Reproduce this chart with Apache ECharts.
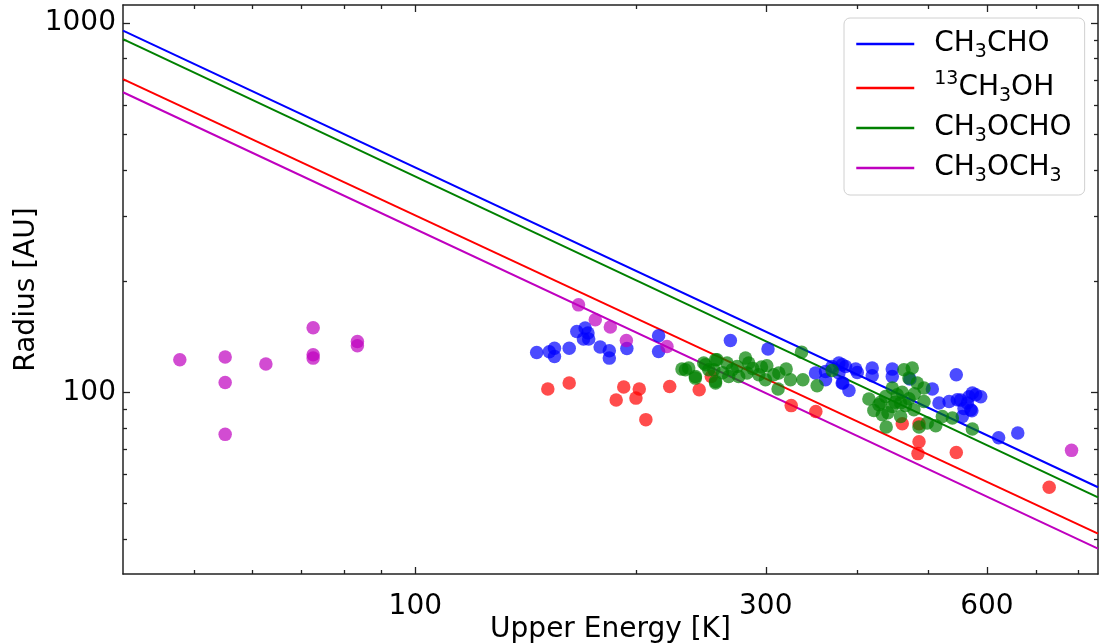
<!DOCTYPE html>
<html><head><meta charset="utf-8">
<script src="https://cdn.jsdelivr.net/npm/echarts@6/dist/echarts.min.js"></script>
<style>html,body{margin:0;padding:0;background:#fff}#c{width:1099px;height:644px}</style>
</head><body><div id="c"></div><script>
// ---- data ----
const seriesNames = ['CH3CHO', '13CH3OH', 'CH3OCHO', 'CH3OCH3'];
const seriesColors = ['#0000ff', '#ff0000', '#008000', '#bf00bf'];
const xMajorTicks = [100, 300, 600];
const xMinorTicks = [50, 60, 70, 80, 90, 200, 400, 500, 700, 800];
const yMajorTicks = [100, 1000];
const yMinorTicks = [40, 50, 60, 70, 80, 90, 200, 300, 400, 500, 600, 700, 800, 900];
const X_MIN = 40, X_MAX = 850, Y_MIN = 32.2, Y_MAX = 1118;

// fit lines: values at x = 40 and x = 850
const fitX = [40, 850];
const fitCH3CHO = [953, 55.3];
const fit13CH3OH = [704, 41.4];
const fitCH3OCHO = [904, 51.9];
const fitCH3OCH3 = [649, 37.7];

const ptsCH3CHO = [[146.3,128.1],[152.2,128.7],[154.7,131.6],[154.7,125.0],[162.0,131.6],[165.9,146.0],[170.3,149.2],[171.8,144.6],[169.4,139.3],[172.2,139.3],[178.5,132.5],[183.7,129.5],[183.7,123.7],[194.1,131.3],[214.4,142.2],[214.4,128.9],[268.5,138.1],[302.1,130.9],[350.6,112.7],[361.8,113.8],[369.4,117.4],[377.3,120.0],[385.3,117.4],[377.3,112.7],[361.8,108.1],[381.2,105.9],[389.4,101.1],[399.7,113.1],[381.2,118.7],[397.7,115.5],[418.8,116.3],[418.8,110.8],[446.0,115.5],[446.0,110.3],[382.0,105.9],[505.7,102.0],[545.1,111.5],[516.4,93.5],[533.0,94.4],[546.9,95.4],[564.3,93.5],[573.3,99.5],[579.4,98.4],[570.4,89.7],[555.5,86.0],[471.4,108.6],[552.7,95.2],[558.5,90.4],[567.3,97.2],[588.6,97.2],[572.4,89.1],[622.5,75.3],[661.0,77.6]];
const pts13CH3OH = [[151.5,102.0],[162.0,105.9],[187.7,95.3],[192.2,103.3],[199.7,96.4],[201.8,102.0],[206.0,84.3],[222.0,103.7],[243.5,101.6],[252.9,110.3],[324.9,92.0],[351.0,88.7],[460.2,82.2],[485.0,82.2],[485.0,73.4],[483.4,68.2],[545.1,68.7],[729.4,55.3]];
const ptsCH3OCHO = [[233.2,115.1],[230.7,115.5],[240.6,110.3],[248.3,118.7],[256.3,122.4],[254.9,115.1],[256.3,105.9],[235.6,116.3],[240.6,109.2],[247.0,120.0],[250.9,115.1],[257.5,122.4],[256.3,107.0],[265.7,120.0],[267.1,110.3],[274.2,117.4],[275.6,110.3],[281.5,123.7],[284.4,120.0],[282.9,112.7],[293.5,111.5],[299.7,108.1],[307.6,111.5],[312.5,112.7],[311.8,102.0],[319.8,115.5],[324.2,108.1],[337.0,108.1],[352.4,104.1],[335.6,128.4],[369.4,114.5],[262,113],[270,115],[288,116],[296,117],[301,118],[414.5,95.9],[421.0,89.3],[427.7,92.5],[436.8,97.4],[446.0,102.7],[446.0,91.5],[453.0,98.4],[457.8,93.5],[457.8,86.0],[437.6,80.5],[462.6,115.1],[474.8,116.3],[469.9,109.2],[482.3,105.9],[492.6,102.7],[492.6,94.4],[477.3,89.7],[485.0,80.5],[497.7,82.5],[511.1,81.2],[521.8,86.0],[538.5,85.2],[573.3,79.5],[432.3,86.9],[460,100],[470,96],[430,94],[440,88],[450,94],[465,92],[478,99]];
const ptsCH3OCH3 = [[47.8,122.4],[55.1,124.5],[55.1,106.3],[55.1,76.9],[62.6,119.2],[72.6,149.4],[72.6,126.3],[72.6,123.7],[83.4,137.2],[83.4,133.6],[166.8,172.4],[175.8,157.1],[184.3,150.1],[193.8,138.1],[220.1,133.0],[782.3,69.6]];

const legendLabels = {
  'CH3CHO': '{n|CH}{s|3}{n|CHO}',
  '13CH3OH': '{p|13}{n|CH}{s|3}{n|OH}',
  'CH3OCHO': '{n|CH}{s|3}{n|OCHO}',
  'CH3OCH3': '{n|CH}{s|3}{n|OCH}{s|3}'
};

// ---- chart ----
const F = 'DejaVu Sans';
const AX = '#222';
function xAx(pos, ticks, len, showLine, withLabels) {
  const a = {
    type: 'log', logBase: 10, min: X_MIN, max: X_MAX, position: pos, gridIndex: 0,
    axisLine: { show: showLine, onZero: false, lineStyle: { color: AX, width: 1.5 } },
    axisTick: { show: true, inside: true, length: len, customValues: ticks, lineStyle: { color: AX, width: 1.3 } },
    axisLabel: { show: false },
    splitLine: { show: false }, minorTick: { show: false }
  };
  if (withLabels) {
    a.axisLabel = { show: true, customValues: ticks, margin: 19, fontSize: 28, fontFamily: F, color: '#000',
      formatter: v => String(Math.round(v)) };
    a.name = 'Upper Energy [K]'; a.nameLocation = 'middle'; a.nameGap = 42; a.nameMoveOverlap = false;
    a.nameTextStyle = { fontSize: 28, fontFamily: F, color: '#000' };
  }
  return a;
}
function yAx(pos, ticks, len, showLine, withLabels) {
  const a = {
    type: 'log', logBase: 10, min: Y_MIN, max: Y_MAX, position: pos, gridIndex: 0,
    axisLine: { show: showLine, onZero: false, lineStyle: { color: AX, width: 1.5 } },
    axisTick: { show: true, inside: true, length: len, customValues: ticks, lineStyle: { color: AX, width: 1.3 } },
    axisLabel: { show: false },
    splitLine: { show: false }, minorTick: { show: false }
  };
  if (withLabels) {
    a.axisLabel = { show: true, customValues: ticks, margin: 7, fontSize: 28, fontFamily: F, color: '#000',
      formatter: v => String(Math.round(v)) };
    a.name = 'Radius [AU]'; a.nameLocation = 'middle'; a.nameGap = 82; a.nameRotate = 90; a.nameMoveOverlap = false;
    a.nameTextStyle = { fontSize: 28, fontFamily: F, color: '#000' };
  }
  return a;
}

const fits = [fitCH3CHO, fit13CH3OH, fitCH3OCHO, fitCH3OCH3];
const pts = [ptsCH3CHO, pts13CH3OH, ptsCH3OCHO, ptsCH3OCH3];
const series = [];
seriesNames.forEach((nm, i) => {
  series.push({
    type: 'line', name: nm, xAxisIndex: 0, yAxisIndex: 0,
    data: fitX.map((x, k) => [x, fits[i][k]]),
    symbol: 'none', showSymbol: false, silent: true, z: 2,
    lineStyle: { color: seriesColors[i], width: 2 }, itemStyle: { color: seriesColors[i] }
  });
});
seriesNames.forEach((nm, i) => {
  series.push({
    type: 'scatter', name: nm + ' data', xAxisIndex: 0, yAxisIndex: 0,
    data: pts[i], symbol: 'circle', symbolSize: 13.5, z: 3,
    itemStyle: { color: seriesColors[i], opacity: 0.7 }
  });
});

const chart = echarts.init(document.getElementById('c'), null, { renderer: 'canvas' });
chart.setOption({
  animation: false,
  backgroundColor: '#fff',
  grid: { left: 123, right: 1, top: 5, bottom: 70, containLabel: false, outerBoundsMode: 'none' },
  xAxis: [
    xAx('bottom', xMajorTicks, 7, true, true),
    xAx('bottom', xMinorTicks, 4, false, false),
    xAx('top', xMajorTicks, 7, true, false),
    xAx('top', xMinorTicks, 4, false, false)
  ],
  yAxis: [
    yAx('left', yMajorTicks, 7, true, true),
    yAx('left', yMinorTicks, 4, false, false),
    yAx('right', yMajorTicks, 7, true, false),
    yAx('right', yMinorTicks, 4, false, false)
  ],
  legend: {
    data: seriesNames, orient: 'vertical', left: 844, top: 18,
    padding: [12, 13, 9, 11], itemGap: 8, itemWidth: 58, itemHeight: 14,
    backgroundColor: 'rgba(255,255,255,0.85)', borderColor: '#d0d0d0', borderWidth: 1, borderRadius: 6,
    itemStyle: { color: 'rgba(0,0,0,0)', borderWidth: 0, opacity: 0 },
    lineStyle: { width: 2.5 },
    formatter: nm => legendLabels[nm],
    textStyle: {
      padding: [0, 0, 0, 15],
      rich: {
        n: { fontSize: 28, lineHeight: 36, fontFamily: F, color: '#000' },
        s: { fontSize: 19, lineHeight: 23, fontFamily: F, color: '#000', verticalAlign: 'bottom' },
        p: { fontSize: 19, lineHeight: 17, fontFamily: F, color: '#000', verticalAlign: 'top' }
      }
    }
  },
  series: series
});
</script></body></html>
